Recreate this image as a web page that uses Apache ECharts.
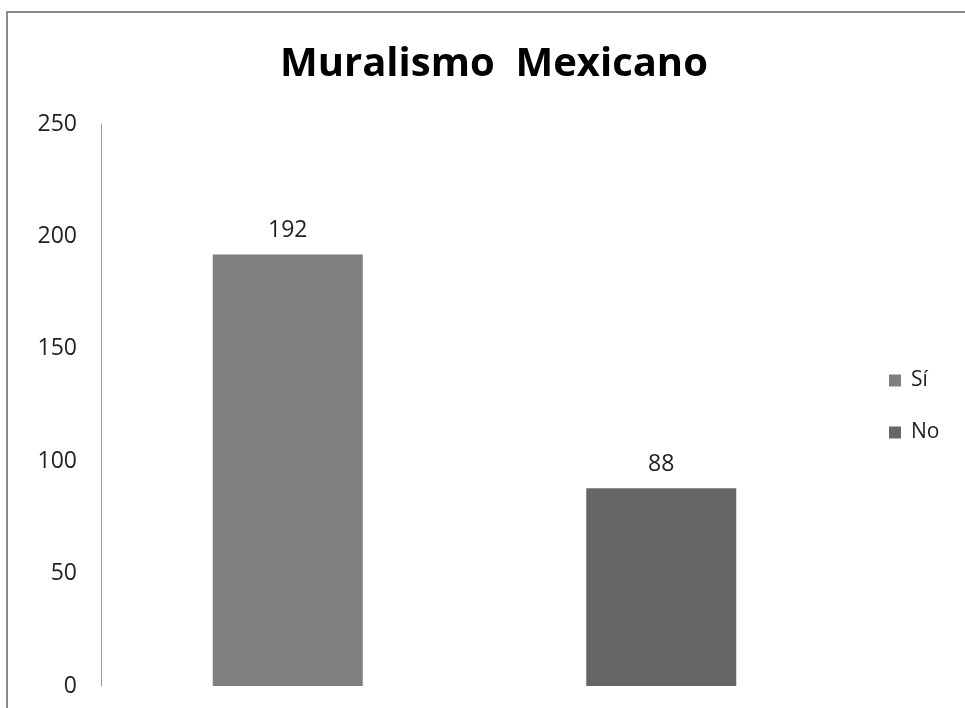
<!DOCTYPE html>
<html>
<head>
<meta charset="utf-8">
<script src="https://cdn.jsdelivr.net/npm/echarts@6/dist/echarts.min.js"></script>
<style>
  html, body { margin: 0; padding: 0; background: #fff; }
  #chart { width: 965px; height: 708px; }
</style>
</head>
<body>
<div id="chart"></div>
<script>
// Survey answers: Muralismo Mexicano
const categories = ['Sí', 'No'];
const siValues = [192, null];
const noValues = [null, 88];
const yTicks = { min: 0, max: 250, interval: 50 };

const font = '"Open Sans", "Noto Sans", sans-serif';
const chart = echarts.init(document.getElementById('chart'));

const valueLabel = {
  show: true,
  position: 'top',
  distance: 12,
  fontFamily: font,
  fontSize: 23,
  color: '#222'
};

chart.setOption({
  animation: false,
  backgroundColor: '#fff',
  title: {
    text: 'Muralismo  Mexicano',
    left: 275,
    top: 40,
    textStyle: { fontFamily: font, fontSize: 40, fontWeight: 'bold', color: '#000' }
  },
  graphic: [{
    type: 'rect',
    shape: { x: 7, y: 12, width: 1000, height: 1000 },
    style: { fill: 'none', stroke: '#8a8a8a', lineWidth: 2 },
    silent: true
  }],
  legend: {
    orient: 'vertical',
    left: 889,
    top: 370,
    padding: 0,
    itemWidth: 12,
    itemHeight: 12,
    itemGap: 31,
    icon: 'rect',
    data: ['Sí', 'No'],
    textStyle: { fontFamily: font, fontSize: 21, color: '#222', padding: [0, 0, 0, 5] }
  },
  grid: { left: 101, right: 117, top: 124, bottom: 22 },
  xAxis: {
    type: 'category',
    data: categories,
    axisLine: { show: false },
    axisTick: { show: false },
    axisLabel: { show: false }
  },
  yAxis: {
    type: 'value',
    min: yTicks.min,
    max: yTicks.max,
    interval: yTicks.interval,
    axisLine: { show: true, lineStyle: { color: '#999', width: 1 } },
    axisTick: { show: false },
    splitLine: { show: false },
    axisLabel: { margin: 24, fontFamily: font, fontSize: 23, color: '#222' }
  },
  series: [
    {
      name: 'Sí',
      type: 'bar',
      data: siValues,
      barWidth: 150,
      barGap: '-100%',
      itemStyle: { color: '#7f7f7f' },
      label: valueLabel
    },
    {
      name: 'No',
      type: 'bar',
      data: noValues,
      barWidth: 150,
      barGap: '-100%',
      itemStyle: { color: '#666666' },
      label: valueLabel
    }
  ]
});
</script>
</body>
</html>
